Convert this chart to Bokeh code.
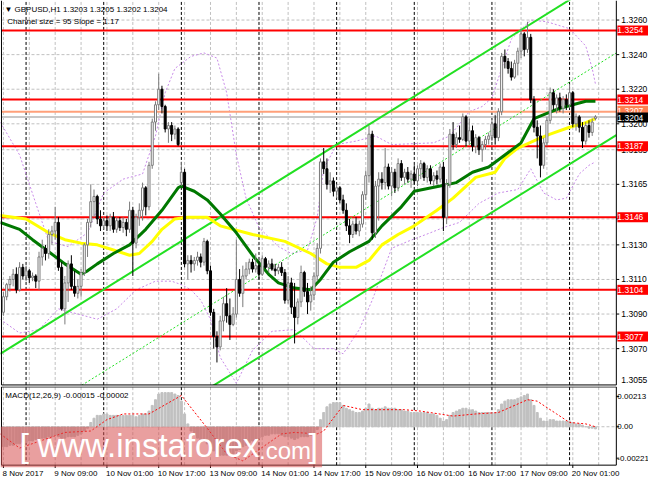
from bokeh.plotting import figure
from bokeh.layouts import column
from bokeh.models import Label, BoxAnnotation, Range1d, ColumnDataSource
from bokeh.embed import file_html
from bokeh.resources import INLINE
import numpy as np

FONT = "Liberation Sans"

# ---------------- data (GBPUSD H1, bar 0 = 8 Nov 2017 17:00) ----------------
opens = [
1.3091,1.3100,1.3107,1.3110,1.3113,1.3104,1.3117,1.3112,1.3115,1.3111,
1.3112,1.3109,1.3123,1.3128,1.3125,1.3136,1.3138,1.3143,1.3117,1.3093,
1.3108,1.3119,1.3106,1.3102,1.3106,1.3114,1.3130,1.3143,1.3155,1.3158,
1.3145,1.3141,1.3144,1.3141,1.3146,1.3139,1.3144,1.3140,1.3143,1.3139,
1.3150,1.3131,1.3146,1.3150,1.3163,1.3152,1.3176,1.3201,1.3211,1.3220,
1.3210,1.3197,1.3199,1.3194,1.3197,1.3166,1.3172,1.3119,1.3121,1.3119,
1.3121,1.3123,1.3120,1.3132,1.3115,1.3091,1.3077,1.3071,1.3086,1.3096,
1.3089,1.3084,1.3090,1.3110,1.3102,1.3112,1.3116,1.3120,1.3116,1.3118,
1.3113,1.3122,1.3117,1.3119,1.3116,1.3115,1.3117,1.3114,1.3098,1.3108,
1.3094,1.3088,1.3097,1.3114,1.3103,1.3097,1.3101,1.3112,1.3128,1.3178,
1.3174,1.3165,1.3167,1.3161,1.3163,1.3156,1.3150,1.3141,1.3136,1.3142,
1.3138,1.3142,1.3159,1.3170,1.3194,1.3137,1.3164,1.3168,1.3166,1.3175,
1.3164,1.3172,1.3163,1.3177,1.3169,1.3172,1.3168,1.3171,1.3167,1.3174,
1.3177,1.3169,1.3174,1.3167,1.3170,1.3168,1.3175,1.3146,1.3165,1.3194,
1.3188,1.3192,1.3191,1.3204,1.3190,1.3196,1.3187,1.3192,1.3185,1.3188,
1.3191,1.3193,1.3200,1.3192,1.3207,1.3239,1.3236,1.3232,1.3227,1.3235,
1.3242,1.3252,1.3243,1.3250,1.3214,1.3198,1.3193,1.3176,1.3189,1.3202,
1.3218,1.3211,1.3215,1.3209,1.3214,1.3211,1.3218,1.3200,1.3204,1.3198,
1.3190,1.3199,1.3195,1.3203]
highs = [
1.3103,1.3108,1.3112,1.3116,1.3117,1.3120,1.3119,1.3118,1.3116,1.3114,
1.3113,1.3126,1.3133,1.3130,1.3139,1.3141,1.3152,1.3146,1.3120,1.3112,
1.3121,1.3124,1.3115,1.3110,1.3116,1.3131,1.3145,1.3165,1.3162,1.3159,
1.3150,1.3146,1.3147,1.3148,1.3149,1.3146,1.3146,1.3146,1.3145,1.3155,
1.3152,1.3148,1.3154,1.3166,1.3164,1.3178,1.3203,1.3213,1.3229,1.3222,
1.3211,1.3201,1.3201,1.3199,1.3198,1.3178,1.3174,1.3124,1.3124,1.3123,
1.3126,1.3125,1.3134,1.3133,1.3118,1.3093,1.3080,1.3089,1.3100,1.3105,
1.3099,1.3094,1.3133,1.3116,1.3118,1.3120,1.3122,1.3122,1.3125,1.3121,
1.3124,1.3123,1.3121,1.3122,1.3119,1.3119,1.3120,1.3116,1.3112,1.3111,
1.3108,1.3099,1.3118,1.3115,1.3108,1.3106,1.3114,1.3131,1.3180,1.3186,
1.3180,1.3172,1.3169,1.3165,1.3164,1.3159,1.3154,1.3145,1.3144,1.3146,
1.3144,1.3161,1.3173,1.3199,1.3196,1.3167,1.3172,1.3172,1.3186,1.3177,
1.3175,1.3174,1.3180,1.3179,1.3174,1.3175,1.3173,1.3176,1.3176,1.3179,
1.3178,1.3176,1.3176,1.3172,1.3173,1.3177,1.3178,1.3168,1.3197,1.3201,
1.3195,1.3199,1.3206,1.3205,1.3203,1.3199,1.3194,1.3193,1.3190,1.3193,
1.3195,1.3203,1.3205,1.3209,1.3241,1.3243,1.3238,1.3236,1.3237,1.3244,
1.3255,1.3253,1.3259,1.3252,1.3216,1.3202,1.3199,1.3192,1.3204,1.3221,
1.3220,1.3217,1.3218,1.3216,1.3217,1.3223,1.3219,1.3206,1.3205,1.3201,
1.3201,1.3202,1.3203,1.3205]
lows = [
1.3089,1.3098,1.3103,1.3106,1.3102,1.3103,1.3110,1.3109,1.3108,1.3109,
1.3105,1.3104,1.3118,1.3121,1.3122,1.3130,1.3133,1.3115,1.3092,1.3084,
1.3097,1.3104,1.3100,1.3099,1.3100,1.3112,1.3123,1.3140,1.3146,1.3142,
1.3138,1.3139,1.3138,1.3138,1.3137,1.3137,1.3138,1.3137,1.3135,1.3137,
1.3112,1.3128,1.3141,1.3144,1.3147,1.3150,1.3174,1.3196,1.3208,1.3206,
1.3195,1.3189,1.3190,1.3191,1.3187,1.3164,1.3117,1.3110,1.3114,1.3115,
1.3118,1.3117,1.3118,1.3113,1.3089,1.3070,1.3062,1.3069,1.3080,1.3085,
1.3075,1.3083,1.3088,1.3100,1.3094,1.3110,1.3113,1.3114,1.3114,1.3110,
1.3112,1.3116,1.3114,1.3115,1.3112,1.3113,1.3112,1.3096,1.3096,1.3090,
1.3073,1.3084,1.3094,1.3100,1.3090,1.3092,1.3098,1.3109,1.3125,1.3171,
1.3162,1.3160,1.3158,1.3157,1.3154,1.3148,1.3138,1.3131,1.3134,1.3136,
1.3135,1.3140,1.3156,1.3166,1.3133,1.3134,1.3144,1.3162,1.3162,1.3162,
1.3158,1.3160,1.3161,1.3167,1.3165,1.3166,1.3163,1.3165,1.3164,1.3168,
1.3167,1.3166,1.3165,1.3164,1.3165,1.3166,1.3138,1.3142,1.3163,1.3185,
1.3186,1.3189,1.3190,1.3187,1.3188,1.3184,1.3183,1.3182,1.3178,1.3185,
1.3188,1.3190,1.3188,1.3190,1.3205,1.3232,1.3229,1.3225,1.3226,1.3228,
1.3238,1.3239,1.3241,1.3212,1.3195,1.3180,1.3169,1.3174,1.3187,1.3200,
1.3208,1.3206,1.3207,1.3206,1.3208,1.3209,1.3198,1.3196,1.3195,1.3186,
1.3188,1.3192,1.3193,1.3202]
closes = [
1.3100,1.3107,1.3110,1.3113,1.3104,1.3117,1.3112,1.3115,1.3111,1.3112,
1.3109,1.3123,1.3128,1.3125,1.3136,1.3138,1.3143,1.3117,1.3093,1.3108,
1.3119,1.3106,1.3102,1.3106,1.3114,1.3130,1.3143,1.3155,1.3158,1.3145,
1.3141,1.3144,1.3141,1.3146,1.3139,1.3144,1.3140,1.3143,1.3139,1.3150,
1.3131,1.3146,1.3150,1.3163,1.3152,1.3176,1.3201,1.3211,1.3220,1.3210,
1.3197,1.3199,1.3194,1.3197,1.3188,1.3172,1.3119,1.3121,1.3119,1.3121,
1.3123,1.3120,1.3132,1.3115,1.3091,1.3077,1.3071,1.3086,1.3096,1.3089,
1.3084,1.3090,1.3110,1.3102,1.3112,1.3116,1.3120,1.3116,1.3118,1.3113,
1.3122,1.3117,1.3119,1.3116,1.3115,1.3117,1.3114,1.3098,1.3108,1.3094,
1.3088,1.3097,1.3114,1.3103,1.3097,1.3101,1.3112,1.3128,1.3178,1.3174,
1.3165,1.3167,1.3161,1.3163,1.3156,1.3150,1.3141,1.3136,1.3142,1.3138,
1.3142,1.3159,1.3170,1.3194,1.3137,1.3164,1.3168,1.3166,1.3175,1.3164,
1.3172,1.3163,1.3177,1.3169,1.3172,1.3168,1.3171,1.3167,1.3174,1.3177,
1.3169,1.3174,1.3167,1.3170,1.3168,1.3175,1.3146,1.3165,1.3194,1.3188,
1.3192,1.3191,1.3204,1.3190,1.3196,1.3187,1.3192,1.3185,1.3188,1.3191,
1.3193,1.3200,1.3192,1.3207,1.3239,1.3236,1.3232,1.3227,1.3235,1.3242,
1.3252,1.3243,1.3250,1.3214,1.3198,1.3193,1.3176,1.3189,1.3202,1.3218,
1.3211,1.3215,1.3209,1.3214,1.3211,1.3218,1.3200,1.3204,1.3198,1.3190,
1.3199,1.3195,1.3201,1.3204]

# moving averages (bar index, price)
ma_green_idx = [-1,5,9,14,19,24,26,29,34,39,44,49,54,55,59,63,67,72,77,82,85,90,95,98,102,107,113,117,123,127,135,140,145,150,155,160,164,168,172,176,180,183]
ma_green = [1.3143,1.3139,1.3133,1.3126,1.3119,1.3113,1.3115,1.3119,1.3125,1.3130,1.3139,1.3150,1.3163,1.3164,1.3161,1.3156,1.3148,1.3137,1.3124,1.3113,1.3108,1.3105,1.3104,1.3110,1.3120,1.3126,1.3132,1.3141,1.3152,1.3161,1.3164,1.3166,1.3172,1.3175,1.3182,1.3189,1.3203,1.3206,1.3209,1.3211,1.3213,1.3213]
ma_yellow_idx = [-1,7,14,19,24,29,34,39,42,46,49,53,57,63,67,77,87,95,100,104,109,113,117,122,127,134,139,146,152,155,159,165,169,175,179,183]
ma_yellow = [1.3147,1.3145,1.3137,1.3133,1.3131,1.3130,1.3127,1.3124,1.3125,1.3132,1.3139,1.3145,1.3146,1.3146,1.3141,1.3136,1.3132,1.3125,1.3119,1.3117,1.3117,1.3121,1.3130,1.3136,1.3141,1.3150,1.3157,1.3169,1.3172,1.3180,1.3186,1.3191,1.3194,1.3198,1.3200,1.3203]

# Bollinger envelope (bar index, price)
bb_up_idx = [-1,5,10,14,20,26,31,37,43,47,50,53,58,62,66,69,72,75,79,85,89,94,97,99,103,109,115,120,133,138,144,148,151,154,157,163,168,175,180,182,183]
bb_up = [1.3201,1.3182,1.3154,1.3132,1.3129,1.3137,1.3160,1.3168,1.3171,1.3193,1.3218,1.3232,1.3239,1.3241,1.3238,1.3218,1.3182,1.3157,1.3140,1.3129,1.3125,1.3127,1.3146,1.3174,1.3188,1.3190,1.3193,1.3188,1.3189,1.3193,1.3207,1.3210,1.3215,1.3232,1.3249,1.3260,1.3259,1.3255,1.3245,1.3232,1.3223]
bb_lo_idx = [-1,5,11,17,23,29,35,41,47,52,55,58,61,64,67,72,77,83,90,96,102,105,110,114,120,125,132,136,141,147,153,159,163,167,171,174,178,181,183]
bb_lo = [1.3087,1.3079,1.3081,1.3093,1.3090,1.3087,1.3093,1.3104,1.3109,1.3109,1.3107,1.3104,1.3098,1.3087,1.3065,1.3050,1.3069,1.3080,1.3081,1.3070,1.3070,1.3067,1.3081,1.3098,1.3128,1.3132,1.3137,1.3140,1.3143,1.3154,1.3160,1.3162,1.3174,1.3160,1.3156,1.3157,1.3171,1.3176,1.3178]

# regression channel (size 95 pips, slope 1.17 pips/bar), from bar -1 to the right edge
chan_idx = [-1, 189.46]
chan_lower = [1.2972, 1.31935]
chan_mid = [1.30195, 1.32410]
chan_upper = [1.3067, 1.32885]

red_levels = [1.3254, 1.3214, 1.3187, 1.3146, 1.3104, 1.3077]
orange_level = 1.3207
bid_level = 1.3204

price_ticks = [1.3260, 1.3240, 1.3220, 1.3200, 1.3185, 1.3165, 1.3145, 1.3130, 1.3110, 1.3090, 1.3070]
bottom_price_label = "1.3055"
time_ticks = [0, 16, 32, 48, 64, 80, 96, 112, 128, 144, 160, 176]
time_labels = ["8 Nov 2017", "9 Nov 09:00", "10 Nov 01:00", "10 Nov 17:00", "13 Nov 09:00", "14 Nov 01:00",
               "14 Nov 17:00", "15 Nov 09:00", "16 Nov 01:00", "16 Nov 17:00", "17 Nov 09:00", "20 Nov 01:00"]
day_starts = [7, 31, 55, 79, 103, 127, 151, 175]
grid_bars = list(range(0, 190, 8))

macd = [
-0.0014,-0.0014,-0.0013,-0.0013,-0.0012,-0.0012,-0.0011,-0.0011,-0.0010,-0.0010,
-0.0009,-0.0009,-0.0008,-0.0008,-0.0007,-0.0007,-0.0006,-0.0007,-0.0008,-0.0008,
-0.0007,-0.0007,-0.0007,-0.0006,-0.0005,-0.0003,-0.0001,0.0003,0.0006,0.0008,
0.0008,0.0009,0.0009,0.0008,0.0008,0.0008,0.0008,0.0008,0.0008,0.0008,
0.0008,0.0007,0.0008,0.0009,0.0009,0.0011,0.0015,0.0019,0.0023,0.0024,
0.0024,0.0024,0.0024,0.0023,0.0022,0.0018,0.0009,0.0002,-0.0003,-0.0006,
-0.0008,-0.0009,-0.0010,-0.0012,-0.0014,-0.0017,-0.0019,-0.0020,-0.0020,-0.0020,
-0.0020,-0.0019,-0.0017,-0.0016,-0.0014,-0.0013,-0.0011,-0.0010,-0.0009,-0.0008,
-0.0007,-0.0006,-0.0006,-0.0005,-0.0005,-0.0005,-0.0006,-0.0007,-0.0007,-0.0008,
-0.0009,-0.0008,-0.0007,-0.0007,-0.0007,-0.0006,-0.0005,-0.0002,0.0005,0.0010,
0.0014,0.0016,0.0017,0.0017,0.0017,0.0015,0.0013,0.0012,0.0011,0.0010,
0.0010,0.0011,0.0013,0.0016,0.0013,0.0012,0.0013,0.0013,0.0014,0.0013,
0.0013,0.0013,0.0012,0.0012,0.0011,0.0011,0.0010,0.0010,0.0010,0.0010,
0.0010,0.0010,0.0009,0.0009,0.0008,0.0006,0.0004,0.0005,0.0008,0.0010,
0.0011,0.0012,0.0013,0.0013,0.0012,0.0012,0.0011,0.0010,0.0010,0.0010,
0.0010,0.0010,0.0010,0.0012,0.0016,0.0018,0.0019,0.0019,0.0019,0.0020,
0.0021,0.0022,0.0023,0.0019,0.0015,0.0010,0.0006,0.0004,0.0004,0.0005,
0.0005,0.0004,0.0004,0.0004,0.0004,0.0004,0.0003,0.0002,0.0002,0.0001,
0.0000,-0.0001,-0.0001,-0.00015]
sig_idx = [-1,5,19,27,32,37,45,55,63,69,74,86,90,97,99,105,111,124,129,139,146,153,162,165,171,175,180,183]
sig = [-0.0005,-0.0015,-0.0004,-0.0003,0.0005,0.0009,0.0009,0.0022,-0.0001,-0.0019,-0.0024,-0.0005,-0.0004,-0.0005,-0.0003,0.0015,0.0012,0.0012,0.0011,0.00075,0.0009,0.0010,0.0019,0.0018,0.0009,0.0003,0.0002,0.0000]
macd_ticks = [0.00213, 0.0, -0.00221]
macd_labels = ["0.00213", "0.00", "-0.00221"]

# ---------------- geometry ----------------
X0, X1, XR = -0.6, 189.46, 199.4        # left border, right border (price scale starts), canvas edge
XL = X0 - 0.304
P_LO, P_HI, P_BOT = 1.30481, 1.32713, 1.30490
M_LO, M_HI, M_TOP, M_BOT = -0.00392, 0.00283, 0.0028, -0.0027
GRID = "#C0C0C0"
TXT = dict(text_font=FONT, text_font_size="8.5px", text_baseline="middle")

o = np.array(opens); h = np.array(highs); l = np.array(lows); c = np.array(closes)
idx = np.arange(len(c))
bull = c >= o
src = ColumnDataSource(dict(
    x=idx, top=np.maximum(o, c), bottom=np.minimum(o, c), high=h, low=l,
    fill=["#FFFFFF" if b else "#000000" for b in bull],
    line=["#7A7A7A" if b else "#000000" for b in bull]))

def base_fig(h_px, yr):
    f = figure(width=648, height=h_px, x_range=Range1d(XL, XR), y_range=Range1d(*yr),
               output_backend="svg", toolbar_location=None, x_axis_location=None, y_axis_location=None,
               min_border=0)
    f.outline_line_color = None
    f.background_fill_color = "white"
    f.border_fill_color = "white"
    f.xgrid.visible = False
    f.ygrid.visible = False
    return f

# ---------------- main price panel ----------------
p = base_fig(386, (P_LO, P_HI))
p.segment(x0=X0, x1=X1, y0=price_ticks, y1=price_ticks, line_color=GRID, line_dash="3 2", line_width=1)
p.segment(x0=grid_bars, x1=grid_bars, y0=P_BOT, y1=P_HI, line_color=GRID, line_dash="3 2", line_width=1)
p.segment(x0=day_starts, x1=day_starts, y0=P_BOT, y1=P_HI, line_color="black", line_dash="3 2", line_width=1)

p.line(bb_up_idx, bb_up, line_color="#C88BE8", line_dash="2 2", line_width=1)
p.line(bb_lo_idx, bb_lo, line_color="#C88BE8", line_dash="2 2", line_width=1)

p.segment(x0=X0, x1=X1, y0=red_levels, y1=red_levels, line_color="#FF0000", line_width=2)
p.segment(x0=X0, x1=X1, y0=[orange_level], y1=[orange_level], line_color="#FFA07A", line_width=2)
p.segment(x0=X0, x1=X1, y0=[bid_level], y1=[bid_level], line_color="#C8C8C8", line_width=2)

p.line(chan_idx, chan_lower, line_color="#22E022", line_width=2)
p.line(chan_idx, chan_upper, line_color="#22E022", line_width=2)
p.line(chan_idx, chan_mid, line_color="#22E022", line_width=1, line_dash="2 2")

p.line(ma_yellow_idx, ma_yellow, line_color="#FFFF00", line_width=3)
p.line(ma_green_idx, ma_green, line_color="#007800", line_width=3)

p.segment(x0="x", y0="high", x1="x", y1="low", source=src, line_color="line", line_width=1)
p.vbar(x="x", width=0.62, top="top", bottom="bottom", source=src, fill_color="fill", line_color="line", line_width=1)

# white price-scale area and frame borders
p.quad(left=X1, right=XR, bottom=P_LO, top=P_HI, fill_color="white", line_color=None)
p.quad(left=XL, right=X1, bottom=P_LO, top=P_BOT, fill_color="white", line_color=None)
p.segment(x0=[X0, X1], x1=[X0, X1], y0=P_BOT, y1=P_HI, line_color="black", line_width=1)
p.segment(x0=X0, x1=X1, y0=P_BOT, y1=P_BOT, line_color="black", line_width=1)
p.segment(x0=X1, x1=X1 + 0.9, y0=price_ticks, y1=price_ticks, line_color="black", line_width=1)

p.add_layout(Label(x=0.3, y=1.32663, text="\u25BC GBPUSD,H1  1.3203 1.3205 1.3202 1.3204",
                   text_font=FONT, text_font_size="8px", text_baseline="middle", text_color="black"))
p.add_layout(Label(x=1.2, y=1.32590, text="Channel size = 95 Slope = 1.17",
                   text_font=FONT, text_font_size="8px", text_baseline="middle", text_color="black"))

for t in price_ticks:
    p.add_layout(Label(x=X1, x_offset=5, y=t, text="%.4f" % t, text_color="black", **TXT))
p.add_layout(Label(x=X1, x_offset=5, y=1.30518, text=bottom_price_label, text_color="black", **TXT))
for lv in red_levels:
    p.add_layout(Label(x=X1, x_offset=1, y=lv, text=" %.4f " % lv, text_color="white",
                       background_fill_color="#FF0000", **TXT))
p.add_layout(Label(x=X1, x_offset=1, y=orange_level + 0.00006, text=" %.4f " % orange_level, text_color="white",
                   background_fill_color="#FF7F50", **TXT))
p.add_layout(Label(x=X1, x_offset=1, y=bid_level - 0.00004, text=" %.4f " % bid_level, text_color="white",
                   background_fill_color="#000000", **TXT))

# ---------------- MACD panel ----------------
q = base_fig(96, (M_LO, M_HI))
q.x_range = p.x_range
q.segment(x0=X0, x1=X1, y0=[0.0], y1=[0.0], line_color=GRID, line_dash="3 2", line_width=1)
q.segment(x0=grid_bars, x1=grid_bars, y0=M_BOT, y1=M_TOP, line_color=GRID, line_dash="3 2", line_width=1)
q.segment(x0=day_starts, x1=day_starts, y0=M_BOT, y1=M_TOP, line_color="black", line_dash="3 2", line_width=1)

q.vbar(x=list(idx), width=0.62, top=macd, bottom=0, fill_color="#C0C0C0", line_color="#C0C0C0")
q.line(sig_idx, sig, line_color="#FF0000", line_dash="2 2", line_width=1)

q.quad(left=X1, right=XR, bottom=M_LO, top=M_HI, fill_color="white", line_color=None)
q.segment(x0=[X0, X1], x1=[X0, X1], y0=M_BOT, y1=M_TOP, line_color="black", line_width=1)
q.segment(x0=X0, x1=X1, y0=[M_TOP, M_BOT], y1=[M_TOP, M_BOT], line_color="black", line_width=1)
q.segment(x0=X1, x1=X1 + 0.9, y0=macd_ticks, y1=macd_ticks, line_color="black", line_width=1)
q.segment(x0=time_ticks, x1=time_ticks, y0=M_BOT, y1=M_BOT - 0.0002, line_color="black", line_width=1)

q.add_layout(Label(x=0.6, y=0.0022, text="MACD(12,26,9) -0.00015 -0.00002", text_font=FONT,
                   text_font_size="8px", text_baseline="middle", text_color="black"))
for t, s in zip(macd_ticks, macd_labels):
    q.add_layout(Label(x=X1, x_offset=1, y=t, text=s, text_color="black", text_font=FONT,
                       text_font_size="8px", text_baseline="middle"))
for t, s in zip(time_ticks, time_labels):
    q.add_layout(Label(x=t - 0.3, y=-0.00326, text=s, text_align="left", text_color="black", text_font=FONT,
                       text_font_size="8px", text_baseline="middle"))

# watermark
q.add_layout(BoxAnnotation(left=XL, right=98.5, top=0.0, bottom=-0.00284, fill_color="#D75050",
                           fill_alpha=0.55, line_color=None))
q.add_layout(Label(x=5.0, y=-0.0026, text="[", text_font=FONT, text_font_size="34px", text_color="white"))
q.add_layout(Label(x=10.5, y=-0.0026, text="www.instaforex", text_font=FONT, text_font_size="33px", text_color="white"))
q.add_layout(Label(x=79.0, y=-0.0026, text=".com", text_font=FONT, text_font_size="24px", text_color="white"))
q.add_layout(Label(x=94.3, y=-0.0026, text="]", text_font=FONT, text_font_size="34px", text_color="white"))

layout = column(p, q, spacing=0)
open("out.html", "w").write(file_html(layout, INLINE))
